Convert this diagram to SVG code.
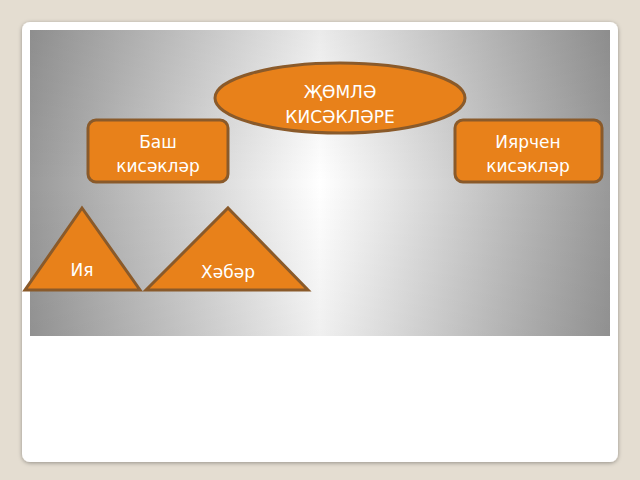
<svg xmlns="http://www.w3.org/2000/svg" width="640" height="480" viewBox="0 0 640 480">
<defs>
<linearGradient id="g" x1="0" y1="0" x2="1" y2="0">
<stop offset="0" stop-color="#9a9a9a"/><stop offset="0.5" stop-color="#ffffff"/><stop offset="1" stop-color="#999999"/>
</linearGradient>
<linearGradient id="v" x1="0" y1="0" x2="0" y2="1">
<stop offset="0" stop-color="#000" stop-opacity="0.08"/><stop offset="0.5" stop-color="#000" stop-opacity="0"/><stop offset="1" stop-color="#000" stop-opacity="0.06"/>
</linearGradient>
<filter id="sh" x="-10%" y="-10%" width="120%" height="120%"><feDropShadow dx="0" dy="1" stdDeviation="2" flood-opacity="0.35"/></filter>
</defs>
<style>
.n{fill:#e8811a;stroke:#8a5a2a;stroke-width:3}
.t{font-family:"DejaVu Sans",sans-serif;font-size:17px;fill:#ffffff;text-anchor:middle}
</style>
<rect width="640" height="480" fill="#e4ddd1"/>
<rect x="22" y="22" width="596" height="440" rx="8" fill="#fff" filter="url(#sh)"/>
<rect x="30" y="30" width="580" height="306" fill="url(#g)"/>
<rect x="30" y="30" width="580" height="306" fill="url(#v)"/>
<g id="connectors"/>
<g id="jomla"><ellipse class="n" cx="340" cy="98" rx="125" ry="35"/><text class="t" x="340" y="98">ҖӨМЛӘ</text><text class="t" x="340" y="123">КИСӘКЛӘРЕ</text></g>
<g id="bash"><rect class="n" x="88" y="120" width="140" height="62" rx="8"/><text class="t" x="158" y="148">Баш</text><text class="t" x="158" y="172">кисәкләр</text></g>
<g id="iyarchen"><rect class="n" x="455" y="120" width="147" height="62" rx="8"/><text class="t" x="528" y="148">Иярчен</text><text class="t" x="528" y="172">кисәкләр</text></g>
<g id="iya"><polygon class="n" points="82,208 140,290 25,290"/><text class="t" x="82" y="276">Ия</text></g>
<g id="khaber"><polygon class="n" points="228,208 308,290 146,290"/><text class="t" x="228" y="278">Хәбәр</text></g>
</svg>
